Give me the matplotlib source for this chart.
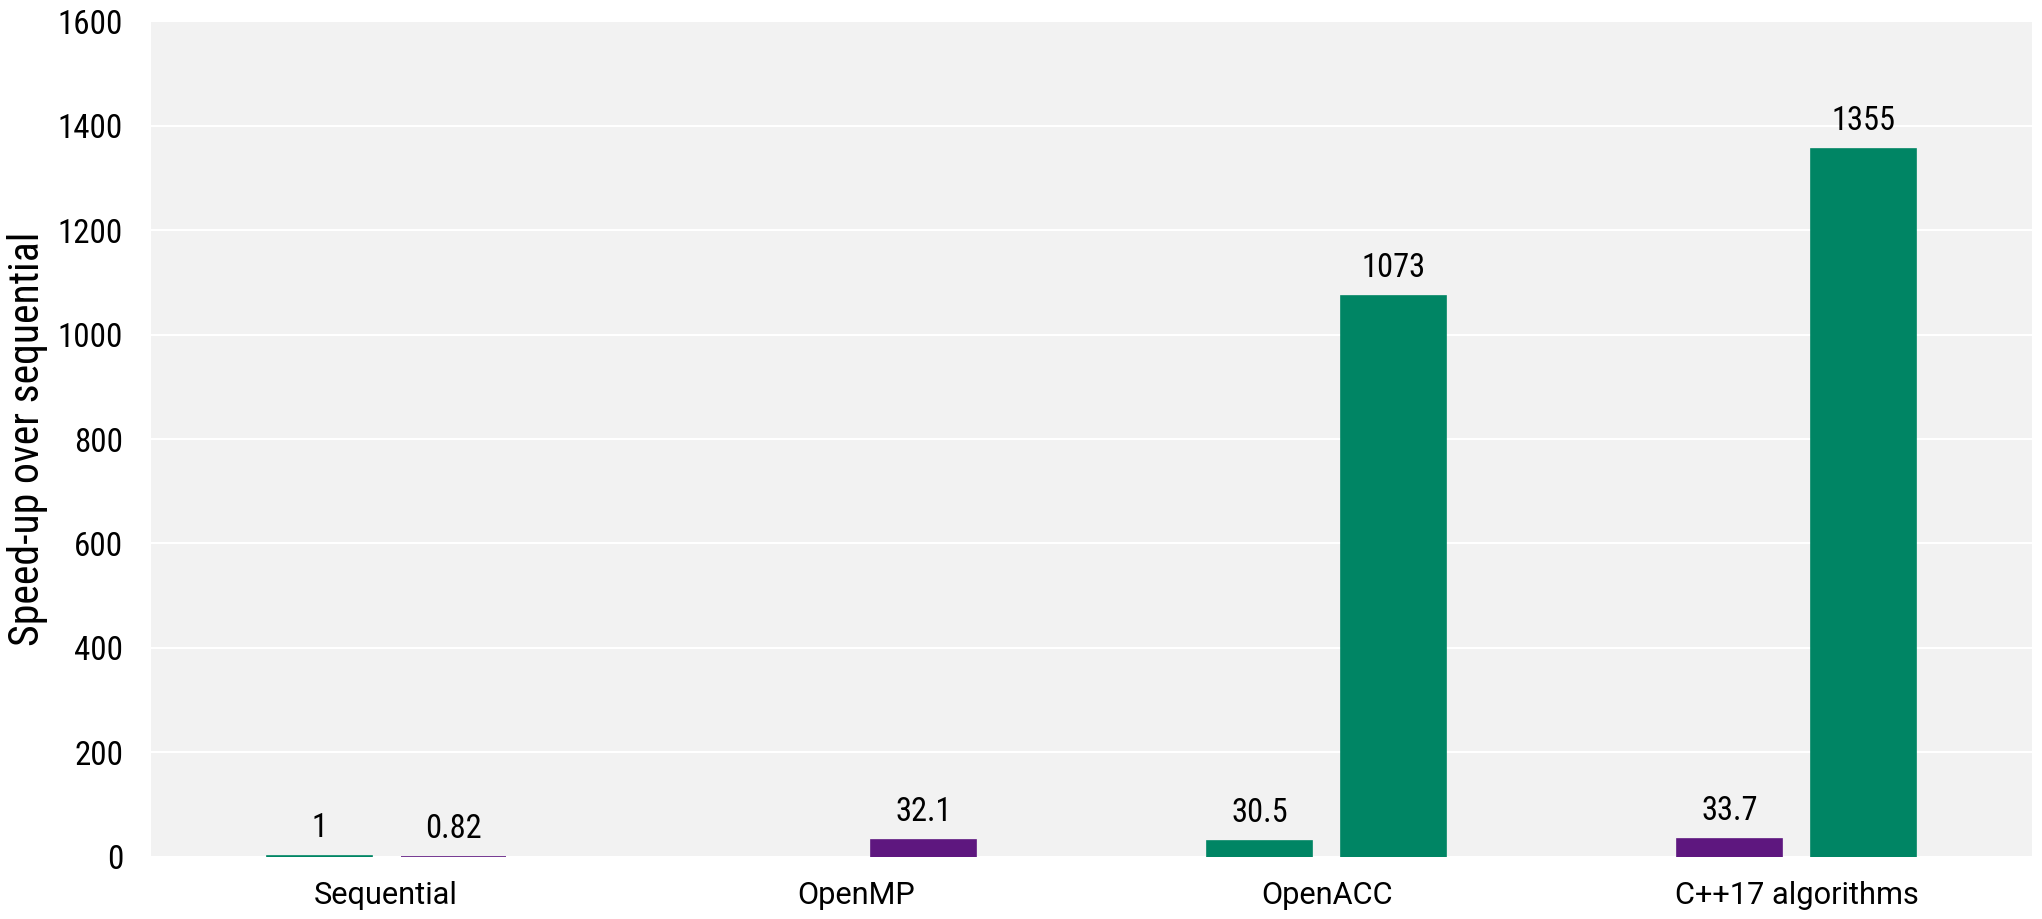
import matplotlib
matplotlib.use("Agg")
import matplotlib.pyplot as plt
import numpy as np
from matplotlib import font_manager

categories = ["Sequential", "OpenMP", "OpenACC", "C++17 algorithms"]
left_values = [1, np.nan, 30.5, 33.7]
left_labels = ["1", "", "30.5", "33.7"]
right_values = [0.82, 32.1, 1073, 1355]
right_labels = ["0.82", "32.1", "1073", "1355"]
GREEN = "#008564"
PURPLE = "#5e177f"
left_colors = [GREEN, GREEN, GREEN, PURPLE]
right_colors = [PURPLE, PURPLE, GREEN, GREEN]
yticks = [0, 200, 400, 600, 800, 1000, 1200, 1400, 1600]
ylabel_text = "Speed-up over sequential"

names = {f.name for f in font_manager.fontManager.ttflist}
narrow = "DejaVu Sans"
for cand in ["Roboto Condensed", "Liberation Sans Narrow", "Roboto"]:
    if cand in names:
        narrow = cand
        break
regular = "Roboto" if "Roboto" in names else "DejaVu Sans"

fig = plt.figure(figsize=(20.42, 9.19), dpi=100)
renderer = fig.canvas.get_renderer()


def fit(text, family, target_px, base=20.0):
    t = fig.text(0, 0, text, fontsize=base, family=family)
    w = t.get_window_extent(renderer).width
    t.remove()
    return base * target_px / w


fs_xlab = fit("C++17 algorithms", regular, 243)
fs_val = fit("1355", narrow, 64)
fs_ytick = fit("1600", narrow, 65)
fs_ylab = fit(ylabel_text, narrow, 414)

ax = fig.add_axes([0.0739, 0.0675, 0.9951 - 0.0739, 0.9771 - 0.0675])
ax.set_facecolor("#f2f2f2")

x = np.arange(len(categories))
off = 0.1425
w = 0.2233

for xs, vals, labs, cols in ((x - off, left_values, left_labels, left_colors),
                             (x + off, right_values, right_labels, right_colors)):
    for xi, v, t, c in zip(xs, vals, labs, cols):
        if np.isnan(v):
            continue
        ax.bar(xi, v, w, color=c, edgecolor=c, linewidth=1.2, zorder=3)
        ax.annotate(t, (xi, v), xytext=(0, 13.7),
                    textcoords="offset points", ha="center", va="baseline",
                    fontsize=fs_val, family=narrow, zorder=4)

ax.set_xlim(-0.5, 3.5)
ax.set_ylim(0, 1600)
ax.set_yticks(yticks)
ax.set_yticklabels([str(t) for t in yticks], fontsize=fs_ytick, family=narrow)
ax.set_xticks(x)
ax.set_xticklabels(categories, fontsize=fs_xlab, family=regular)
ax.tick_params(axis="both", length=0)
ax.tick_params(axis="x", pad=17)
ax.tick_params(axis="y", pad=20)
ax.yaxis.grid(True, color="white", linewidth=1.5, zorder=1)
ax.set_axisbelow(True)
for s in ax.spines.values():
    s.set_visible(False)
ax.set_ylabel(ylabel_text, fontsize=fs_ylab, family=narrow)
ax.yaxis.set_label_coords((48 - 151) / 1881, 0.5)

fig.savefig("out.png", dpi=100)
